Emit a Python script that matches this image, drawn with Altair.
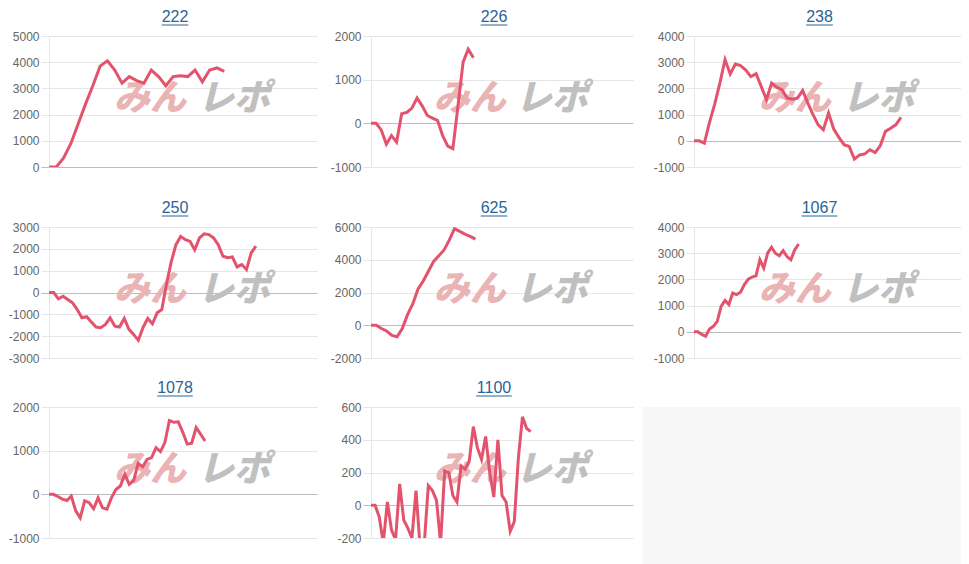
import altair as alt
import pandas as pd

titles = ["222", "226", "238", "250", "625", "1067", "1078", "1100"]

v222 = [0, 0, 350, 900, 1650, 2400, 3100, 3850, 4050, 3700, 3200, 3450, 3300, 3200,
        3700, 3450, 3100, 3450, 3480, 3450, 3700, 3250, 3700, 3780, 3650]
v226 = [0, 0, -150, -480, -280, -430, 220, 250, 350, 580, 400, 180, 120, 70, -280,
        -520, -580, 400, 1400, 1700, 1500]
v238 = [0, 0, -90, 700, 1400, 2200, 3100, 2550, 2930, 2870, 2700, 2450, 2560, 2070,
        1570, 2200, 2040, 1950, 1630, 1590, 1630, 1920, 1440, 1000, 610, 420, 1060,
        450, 130, -150, -220, -700, -540, -500, -340, -450, -190, 360, 480, 610, 890]
v250 = [0, 0, -290, -170, -320, -470, -780, -1160, -1110, -1350, -1580, -1610, -1460,
        -1160, -1540, -1580, -1190, -1690, -1920, -2190, -1600, -1190, -1430, -930,
        -780, 400, 1400, 2190, 2570, 2420, 2340, 1960, 2500, 2690, 2650, 2500, 2190,
        1660, 1590, 1630, 1170, 1280, 1050, 1810, 2120]
v625 = [0, 0, -200, -350, -620, -700, -200, 650, 1300, 2200, 2700, 3300, 3900, 4250,
        4600, 5200, 5900, 5730, 5570, 5430, 5260]
v1067 = [0, 0, -100, -170, 110, 210, 400, 970, 1200, 1040, 1480, 1420, 1510, 1800,
         2010, 2090, 2140, 2750, 2430, 3000, 3230, 3000, 2900, 3100, 2870, 2750, 3130, 3350]
v1078 = [0, 0, -50, -110, -140, -40, -380, -540, -150, -190, -330, -80, -310, -340,
         -80, 110, 190, 460, 230, 320, 710, 630, 800, 840, 1070, 980, 1190, 1690, 1650,
         1660, 1420, 1150, 1170, 1530, 1380, 1220]
v1100 = [0, 0, -70, -230, 20, -150, -210, 130, -90, -140, -200, 90, -260, -240, 120,
         90, 30, -230, 210, 200, 60, 20, 240, 220, 270, 480, 350, 280, 420, 200, 50,
         400, 60, 20, -160, -100, 290, 540, 470, 450]

series = [v222, v226, v238, v250, v625, v1067, v1078, v1100]

ticks = [
    [0, 1000, 2000, 3000, 4000, 5000],
    [-1000, 0, 1000, 2000],
    [-1000, 0, 1000, 2000, 3000, 4000],
    [-3000, -2000, -1000, 0, 1000, 2000, 3000],
    [-2000, 0, 2000, 4000, 6000],
    [-1000, 0, 1000, 2000, 3000, 4000],
    [-1000, 0, 1000, 2000],
    [-200, 0, 200, 400, 600],
]
x_max = [36.7, 51.2, 51.6, 57, 50.2, 68.9, 60.1, 64]

LINE = "#e4536e"
TITLE = "#2a6496"
GRID = "#e6e6e6"
ZERO = "#bdbdbd"
LABEL = "#666666"

col_width = [268, 262, 267]
col_extent = [40, 44, 51]
row_xext = [22, 11, 0]
PH = 131


def panel(k):
    row, col = divmod(k, 3)
    W = col_width[col]
    xm = x_max[k]
    vals = series[k]
    df = pd.DataFrame({"i": list(range(len(vals))), "v": vals})
    tk = ticks[k]
    ymin, ymax = tk[0], tk[-1]
    grid_col = alt.condition("datum.value === 0", alt.value(ZERO), alt.value(GRID))
    xs = alt.Scale(domain=[0, xm], nice=False, zero=False)
    ys = alt.Scale(domain=[ymin, ymax], nice=False, zero=False)
    xa = alt.Axis(labels=False, ticks=False, domain=False, grid=False, title=None,
                  minExtent=row_xext[row], maxExtent=row_xext[row])
    ya = alt.Axis(values=tk, grid=True, gridColor=grid_col, tickColor=grid_col,
                  tickSize=8, domainColor=GRID, labelColor=LABEL, labelFontSize=12,
                  labelFont="Liberation Sans", labelPadding=2, title=None,
                  labelExpr="datum.value + ''", labelOverlap=False,
                  minExtent=col_extent[col], maxExtent=col_extent[col])
    ywm = ymin + 0.52 * (ymax - ymin)
    wm = pd.DataFrame({"i": [0.377 * xm, 0.69 * xm], "v": [ywm, ywm],
                       "t": ["みん", "レポ"], "c": ["#eab4b4", "#c0c0c0"]})
    wmark = alt.Chart(wm).mark_text(font="Noto Sans CJK JP", fontSize=36,
                                    fontWeight=900, fontStyle="italic",
                                    align="center", baseline="middle").encode(
        x=alt.X("i:Q", scale=xs, axis=xa), y=alt.Y("v:Q", scale=ys, axis=ya),
        text="t:N", color=alt.Color("c:N", scale=None))
    line = alt.Chart(df).mark_line(color=LINE, strokeWidth=3, clip=True).encode(
        x=alt.X("i:Q", scale=xs, axis=xa), y=alt.Y("v:Q", scale=ys, axis=ya))
    hw = len(titles[k]) * 4.45
    ul_df = pd.DataFrame({"a": [xm * (0.5 - (8 + hw) / W)], "b": [xm * (0.5 - (8 - hw) / W)]})
    ul = alt.Chart(ul_df).mark_rule(color=TITLE, strokeWidth=1).encode(
        x=alt.X("a:Q", scale=xs, axis=xa), x2="b:Q", y=alt.value(-11))
    return alt.layer(wmark, line, ul).properties(
        width=W, height=PH,
        title=alt.TitleParams(titles[k], fontSize=16, color=TITLE, font="Liberation Sans",
                              fontWeight="normal", offset=-13, baseline="alphabetic",
                              frame="group", dx=-8))


panels = [panel(k) for k in range(8)]

blank = alt.Chart(pd.DataFrame({"t": [""]})).mark_text().encode(text="t:N").properties(
    width=318, height=PH + 36,
    view=alt.ViewBackground(fill="#f7f7f7", strokeWidth=0))

rows = [
    alt.hconcat(panels[0], panels[1], panels[2], spacing=10),
    alt.hconcat(panels[3], panels[4], panels[5], spacing=10),
    alt.hconcat(panels[6], panels[7], blank, spacing=10),
]

chart = alt.vconcat(*rows, spacing=10).properties(padding=0, background="white").configure_view(
    strokeWidth=0)

chart.save("out.html", embed_options={"renderer": "svg", "actions": False})
